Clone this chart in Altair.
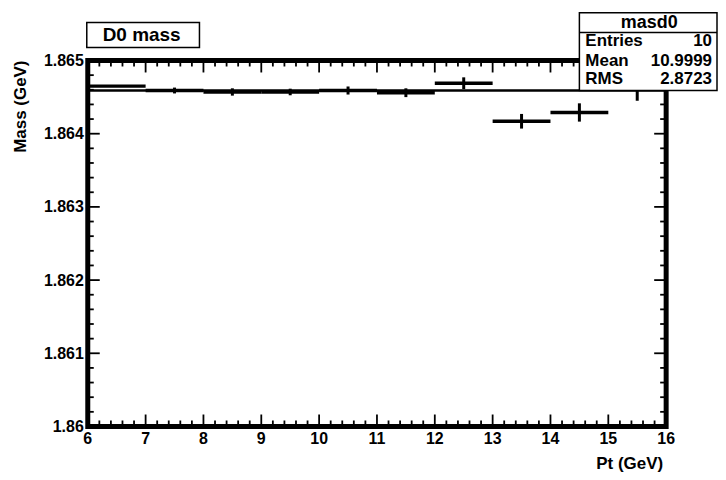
import altair as alt
import pandas as pd

# ---- data ----
bin_lo = [6, 7, 8, 9, 10, 11, 12, 13, 14, 15]
bin_hi = [7, 8, 9, 10, 11, 12, 13, 14, 15, 16]
mass = [1.86465, 1.86459, 1.86457, 1.86457, 1.86459, 1.86456, 1.86469, 1.86417, 1.86429, 1.86465]
mass_err = [0.00001, 0.00004, 0.00005, 0.000045, 0.000055, 0.00006, 0.00008, 0.0001, 0.000125, 0.0002]
fit_value = [1.86459]
fit_range = [6, 16]

x_ticks = [6, 7, 8, 9, 10, 11, 12, 13, 14, 15, 16]
x_tick_labels = ["6", "7", "8", "9", "10", "11", "12", "13", "14", "15", "16"]
y_ticks = [1.860, 1.861, 1.862, 1.863, 1.864, 1.865]
y_tick_labels = ["1.86", "1.861", "1.862", "1.863", "1.864", "1.865"]
x_minor = [round(6 + i * 0.2, 1) for i in range(51) if i % 5]
y_minor = [round(1.860 + i * 0.0002, 4) for i in range(26) if i % 5]

title_text = ["D0 mass"]
stats_title = ["masd0"]
stats_names = ["Entries", "Mean", "RMS"]
stats_values = ["10", "10.9999", "2.8723"]

x_title = ["Pt (GeV)"]
y_title = ["Mass (GeV)"]

# ---- layout ----
FONT = "Liberation Sans"
W, H = 580, 367
MAJ, MIN = 12, 6

xs = alt.Scale(domain=[6, 16], nice=False, zero=False)
ys = alt.Scale(domain=[1.86, 1.865], nice=False, zero=False)

TXT = dict(font=FONT, fontWeight="bold", color="black")

df = pd.DataFrame({"lo": bin_lo, "hi": bin_hi, "mass": mass, "err": mass_err})
base = alt.Chart(df)

hbars = base.mark_rule(color="black", strokeWidth=3.5).encode(
    x=alt.X("lo:Q", scale=xs, axis=None),
    x2="hi:Q",
    y=alt.Y("mass:Q", scale=ys, axis=None),
)

vbars = base.transform_calculate(
    center="(datum.lo + datum.hi) / 2",
    ylo="datum.mass - datum.err",
    yhi="datum.mass + datum.err",
).mark_rule(color="black", strokeWidth=3).encode(
    x=alt.X("center:Q", scale=xs, axis=None),
    y=alt.Y("ylo:Q", scale=ys, axis=None),
    y2="yhi:Q",
)

fit_df = pd.DataFrame({"x0": [fit_range[0]], "x1": [fit_range[1]], "f": fit_value})
fit = alt.Chart(fit_df).mark_rule(color="black", strokeWidth=2.5).encode(
    x=alt.X("x0:Q", scale=xs, axis=None),
    x2="x1:Q",
    y=alt.Y("f:Q", scale=ys, axis=None),
)

# tick data
xmaj_df = pd.DataFrame({"v": x_ticks, "lab": x_tick_labels})
ymaj_df = pd.DataFrame({"v": y_ticks, "lab": y_tick_labels})
xmin_df = pd.DataFrame({"v": x_minor})
ymin_df = pd.DataFrame({"v": y_minor})

# inward ticks on all four sides (positions through the scales)
TICK_COLOR = "black"
tick_layers = []
for d, ln in ((xmaj_df, MAJ), (xmin_df, MIN)):
    tick_layers.append(alt.Chart(d).mark_rule(color=TICK_COLOR, strokeWidth=1.8).encode(
        x=alt.X("v:Q", scale=xs, axis=None), y=alt.value(H), y2=alt.value(H - ln)))
    tick_layers.append(alt.Chart(d).mark_rule(color=TICK_COLOR, strokeWidth=1.8).encode(
        x=alt.X("v:Q", scale=xs, axis=None), y=alt.value(0), y2=alt.value(ln)))
for d, ln in ((ymaj_df, MAJ), (ymin_df, MIN)):
    tick_layers.append(alt.Chart(d).mark_rule(color=TICK_COLOR, strokeWidth=1.8).encode(
        y=alt.Y("v:Q", scale=ys, axis=None), x=alt.value(0), x2=alt.value(ln)))
    tick_layers.append(alt.Chart(d).mark_rule(color=TICK_COLOR, strokeWidth=1.8).encode(
        y=alt.Y("v:Q", scale=ys, axis=None), x=alt.value(W), x2=alt.value(W - ln)))

# tick labels
x_labels = alt.Chart(xmaj_df).mark_text(fontSize=16, align="center", baseline="alphabetic", **TXT).encode(
    x=alt.X("v:Q", scale=xs, axis=None), y=alt.value(H + 18), text="lab:N")
y_labels = alt.Chart(ymaj_df).mark_text(fontSize=16, align="right", baseline="alphabetic", dy=5.5, **TXT).encode(
    y=alt.Y("v:Q", scale=ys, axis=None), x=alt.value(-4), text="lab:N")

# axis titles
xt = alt.Chart(pd.DataFrame({"t": x_title})).mark_text(
    fontSize=17, align="right", baseline="alphabetic", **TXT).encode(
    x=alt.value(W - 3), y=alt.value(H + 43), text="t:N")
yt = alt.Chart(pd.DataFrame({"t": y_title})).mark_text(
    fontSize=17, align="right", baseline="alphabetic", angle=270, **TXT).encode(
    x=alt.value(-62), y=alt.value(0), text="t:N")

# frame
fdf = pd.DataFrame({"t": title_text})
frame = alt.Chart(fdf).mark_rect(fillOpacity=0, stroke="black", strokeWidth=5).encode(
    x=alt.value(0), x2=alt.value(W), y=alt.value(0), y2=alt.value(H))

# title box
tdf = pd.DataFrame({"t": title_text})
tbox = alt.Chart(tdf).mark_rect(fill="white", stroke="black", strokeWidth=1.5).encode(
    x=alt.value(-1), x2=alt.value(112), y=alt.value(-38), y2=alt.value(-13))
ttext = alt.Chart(tdf).mark_text(fontSize=19, align="center", baseline="alphabetic", **TXT).encode(
    x=alt.value(54), y=alt.value(-19.5), text="t:N")

# stats box
sdf = pd.DataFrame({"t": stats_title})
sbox = alt.Chart(sdf).mark_rect(fill="white", stroke="black", strokeWidth=1.5).encode(
    x=alt.value(493), x2=alt.value(631), y=alt.value(-48), y2=alt.value(30))
ssep = alt.Chart(sdf).mark_rule(color="black", strokeWidth=1.5).encode(
    x=alt.value(493), x2=alt.value(631), y=alt.value(-28))
stitle = alt.Chart(sdf).mark_text(fontSize=18, align="center", baseline="alphabetic", **TXT).encode(
    x=alt.value(563), y=alt.value(-33), text="t:N")

row_y = [-15, 5.5, 23.5]
stat_layers = []
for i, (nm, val) in enumerate(zip(stats_names, stats_values)):
    rdf = pd.DataFrame({"n": [nm], "v": [val]})
    stat_layers.append(alt.Chart(rdf).mark_text(
        fontSize=17, align="left", baseline="alphabetic", **TXT).encode(
        x=alt.value(499), y=alt.value(row_y[i]), text="n:N"))
    stat_layers.append(alt.Chart(rdf).mark_text(
        fontSize=17, align="right", baseline="alphabetic", **TXT).encode(
        x=alt.value(626), y=alt.value(row_y[i]), text="v:N"))

chart = alt.layer(
    fit, hbars, vbars, *tick_layers, frame, x_labels, y_labels, xt, yt,
    tbox, ttext, sbox, ssep, stitle, *stat_layers
).properties(
    width=W, height=H,
    autosize=alt.AutoSizeParams(type="none"),
    padding={"left": 80, "top": 52, "right": 52, "bottom": 45},
    background="white",
).configure_view(strokeWidth=0)

chart.save("out.html", embed_options={"renderer": "svg", "actions": False})
